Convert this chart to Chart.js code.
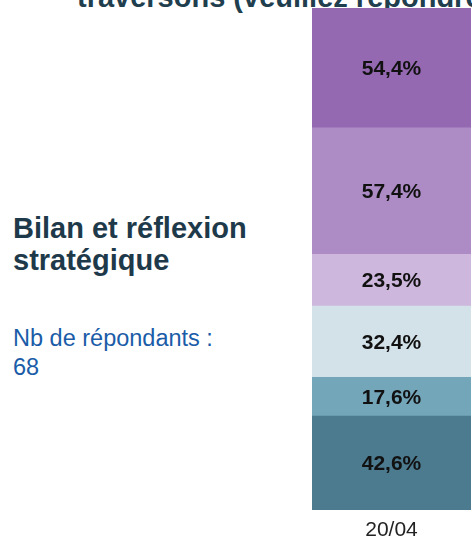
<!DOCTYPE html>
<html lang="fr">
<head>
<meta charset="utf-8">
<script src="https://cdn.jsdelivr.net/npm/chart.js@4/dist/chart.umd.min.js"></script>
<style>
  html, body { margin:0; padding:0; background:#fff; }
  body { width:472px; height:542px; overflow:hidden; position:relative; font-family:"Liberation Sans", Arial, sans-serif; }
  #chart { position:absolute; left:0; top:0; }
  .title { position:absolute; left:77px; top:-19px; font-weight:bold; font-size:29px; line-height:32px; color:#1f3f4f; white-space:nowrap; }
  .side { position:absolute; left:13px; top:212px; font-weight:bold; font-size:29px; line-height:32px; color:#1e3a4a; white-space:nowrap; }
  .count { position:absolute; left:13px; top:324px; font-size:23.5px; line-height:29px; color:#1a5ca8; white-space:nowrap; }
</style>
</head>
<body>
<div class="title">traversons (veuillez répondre)</div>
<div class="side">Bilan et réflexion<br>stratégique</div>
<div class="count">Nb de répondants :<br>68</div>
<canvas id="chart" width="472" height="542"></canvas>
<script>
// Data (stack order: bottom to top)
const categories = ["20/04"];
const seriesNames = ["Série 1", "Série 2", "Série 3", "Série 4", "Série 5", "Série 6"];
const seriesValues = [42.6, 17.6, 32.4, 23.5, 57.4, 54.4];
const seriesColors = ["#4c7a8f", "#74a6ba", "#d3e1e8", "#cdb7dd", "#ad8bc5", "#9569b2"];

const FONT = '"Liberation Sans", Arial, sans-serif';
const total = seriesValues.reduce((a, b) => a + b, 0);

function fmt(v) { return v.toFixed(1).replace('.', ',') + '%'; }

const valueLabels = {
  id: 'valueLabels',
  afterDatasetsDraw(chart) {
    const ctx = chart.ctx;
    ctx.save();
    ctx.font = 'bold 21px ' + FONT;
    ctx.fillStyle = '#111';
    ctx.textAlign = 'center';
    ctx.textBaseline = 'middle';
    chart.data.datasets.forEach((ds, i) => {
      const meta = chart.getDatasetMeta(i);
      meta.data.forEach((bar, j) => {
        const p = bar.getProps(['x', 'y', 'base'], true);
        ctx.fillText(fmt(ds.data[j]), p.x, (p.y + p.base) / 2 + 1);
      });
    });
    ctx.restore();
  }
};

new Chart(document.getElementById('chart'), {
  type: 'bar',
  data: {
    labels: categories,
    datasets: seriesValues.map((v, i) => ({
      label: seriesNames[i],
      data: [v],
      backgroundColor: seriesColors[i],
      borderWidth: 0,
      barPercentage: 1,
      categoryPercentage: 1
    }))
  },
  options: {
    responsive: false,
    animation: false,
    layout: { padding: { left: 312, top: 8, right: 1, bottom: 0 } },
    plugins: { legend: { display: false }, tooltip: { enabled: false }, title: { display: false } },
    scales: {
      x: {
        stacked: true,
        grid: { display: false, drawTicks: false },
        border: { display: false },
        ticks: { font: { size: 21, family: FONT }, color: '#222', padding: 8 },
        afterFit(s) { s.height = 32; }
      },
      y: { stacked: true, display: false, min: 0, max: total }
    }
  },
  plugins: [valueLabels]
});
</script>
</body>
</html>
